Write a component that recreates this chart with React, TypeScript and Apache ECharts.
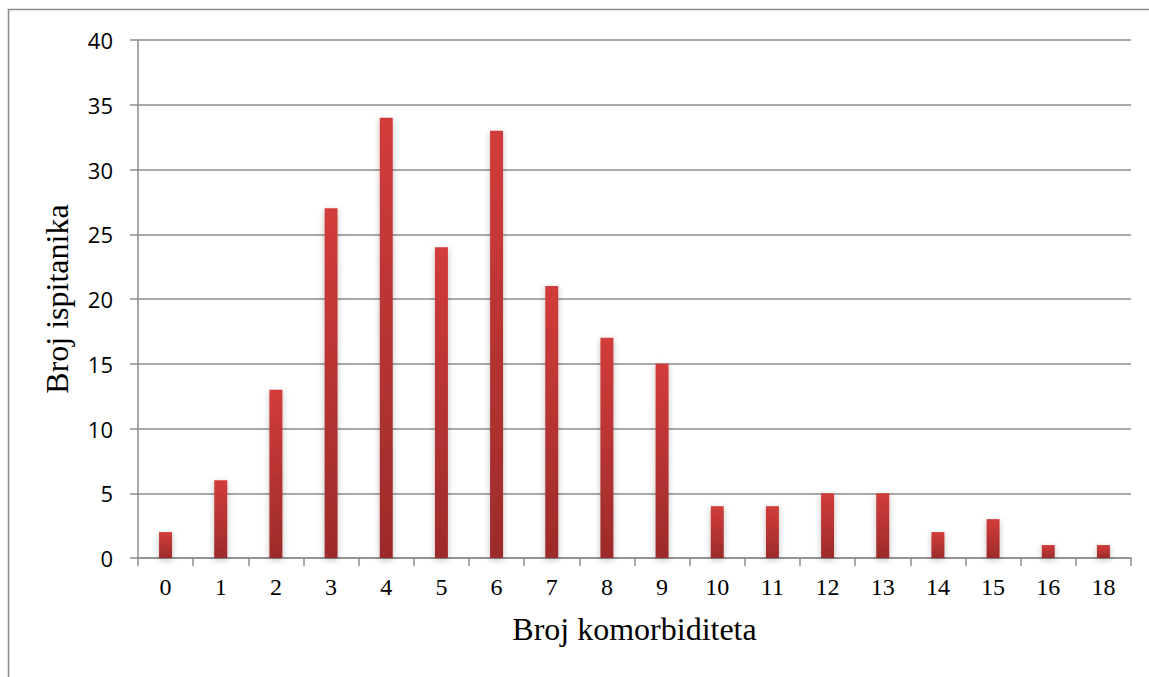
import React, { useEffect, useRef } from "react";
import * as echarts from "echarts";

const categories = ["0", "1", "2", "3", "4", "5", "6", "7", "8", "9", "10", "11", "12", "13", "14", "15", "16", "18"];
const counts = [2, 6, 13, 27, 34, 24, 33, 21, 17, 15, 4, 4, 5, 5, 2, 3, 1, 1];
const yTicks = { min: 0, max: 40, interval: 5 };
const xName = "Broj komorbiditeta";
const yName = "Broj ispitanika";

export default function App() {
  const ref = useRef<HTMLDivElement>(null);
  useEffect(() => {
    const chart = echarts.init(ref.current!, null, { renderer: "svg" });
    chart.setOption({
      animation: false,
      backgroundColor: "#ffffff",
      graphic: [
        {
          type: "rect",
          shape: { x: 8.5, y: 9.5, width: 1160, height: 700 },
          style: { fill: "none", stroke: "#8c8c8c", lineWidth: 1.5 },
          silent: true,
        },
      ],
      grid: { left: 138, top: 40, right: 18, bottom: 119, containLabel: false },
      xAxis: {
        type: "category",
        data: categories,
        name: xName,
        nameLocation: "middle",
        nameGap: 55,
        nameTextStyle: { fontFamily: "Liberation Serif", fontSize: 32, color: "#000" },
        axisLine: { show: true, lineStyle: { color: "#8c8c8c", width: 1.5 } },
        axisTick: { show: true, length: 8, lineStyle: { color: "#8c8c8c", width: 1.5 } },
        axisLabel: { fontFamily: "Liberation Serif", fontSize: 24, color: "#000", margin: 17 },
        splitLine: { show: false },
      },
      yAxis: {
        type: "value",
        min: yTicks.min,
        max: yTicks.max,
        interval: yTicks.interval,
        name: yName,
        nameLocation: "middle",
        nameGap: 65,
        nameRotate: 90,
        nameTextStyle: { fontFamily: "Liberation Serif", fontSize: 32, color: "#000" },
        axisLine: { show: true, lineStyle: { color: "#8c8c8c", width: 1.5 } },
        axisTick: { show: true, length: 8, lineStyle: { color: "#8c8c8c", width: 1.5 } },
        axisLabel: { fontFamily: "Open Sans", fontSize: 22, color: "#000", margin: 25 },
        splitLine: { show: true, lineStyle: { color: "#8c8c8c", width: 1.5 } },
      },
      series: [
        {
          type: "bar",
          data: counts,
          barWidth: 13,
          itemStyle: {
            color: new echarts.graphic.LinearGradient(0, 0, 0, 1, [
              { offset: 0, color: "#d23c3a" },
              { offset: 1, color: "#9c2b2a" },
            ]),
            shadowColor: "rgba(0,0,0,0.25)",
            shadowBlur: 6,
            shadowOffsetY: 2,
          },
        },
      ],
    });
    return () => chart.dispose();
  }, []);
  return (
    <div
      ref={ref}
      style={{ position: "fixed", left: 0, top: 0, width: 1149, height: 677 }}
    />
  );
}
